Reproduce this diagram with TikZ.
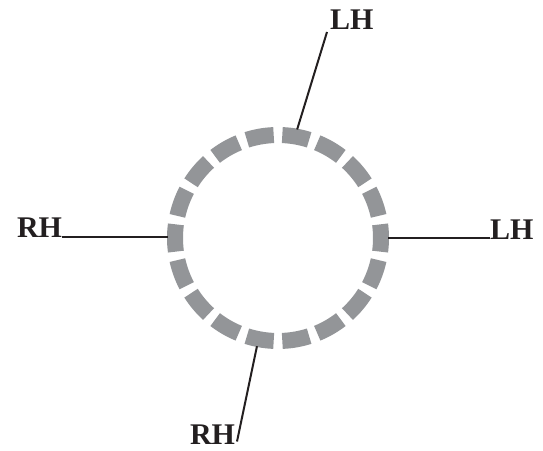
\documentclass[tikz,border=0pt]{standalone}
\usepackage{fontspec}
\setmainfont{Liberation Serif}
\usepackage{xcolor}
\usetikzlibrary{positioning,calc}
\definecolor{ink}{HTML}{231F20}
\definecolor{ringgray}{HTML}{939598}
\tikzset{
  ringdash/.style = {draw=ringgray, line width=16pt, line cap=butt},
  helix/.style    = {draw=ink, line width=2pt},
  hand/.style     = {font=\fontsize{30}{32}\selectfont\bfseries\color{ink}, inner sep=0pt, outer sep=0pt},
}

\begin{document}
\begin{tikzpicture}[x=1pt,y=1pt]
\path[use as bounding box] (0,0) rectangle (543,450);

% ---- ring ---------------------------------------------------------------
\node[circle, minimum size=220pt, inner sep=0pt] (ring) at (278,212) {};
\foreach \a in {0,20,...,340}{
  \draw[ringdash] ($(ring.center)+(\a-7.6:103)$) arc[start angle=\a-7.6, end angle=\a+7.6, radius=103];
}

% ---- labels -------------------------------------------------------------
\node[hand, anchor=base west] (lhtop)    at (330,420) {LH};
\node[hand, anchor=base west] (lhright)  at (490,210) {LH};
\node[hand, anchor=base east] (rhleft)   at (62,212.5) {RH};
\node[hand, anchor=base east] (rhbottom) at (235,5.5) {RH};

% ---- connectors ---------------------------------------------------------
\draw[helix] (ring.80) -- ([xshift=-3pt,yshift=-2pt]lhtop.base west);
\draw[helix] (ring.east) -- (ring.east -| lhright.west);
\draw[helix] (rhleft.base east) -- (rhleft.base east -| ring.west);
\draw[helix] (ring.259) -- ([xshift=2pt,yshift=3pt]rhbottom.base east);
\end{tikzpicture}
\end{document}
